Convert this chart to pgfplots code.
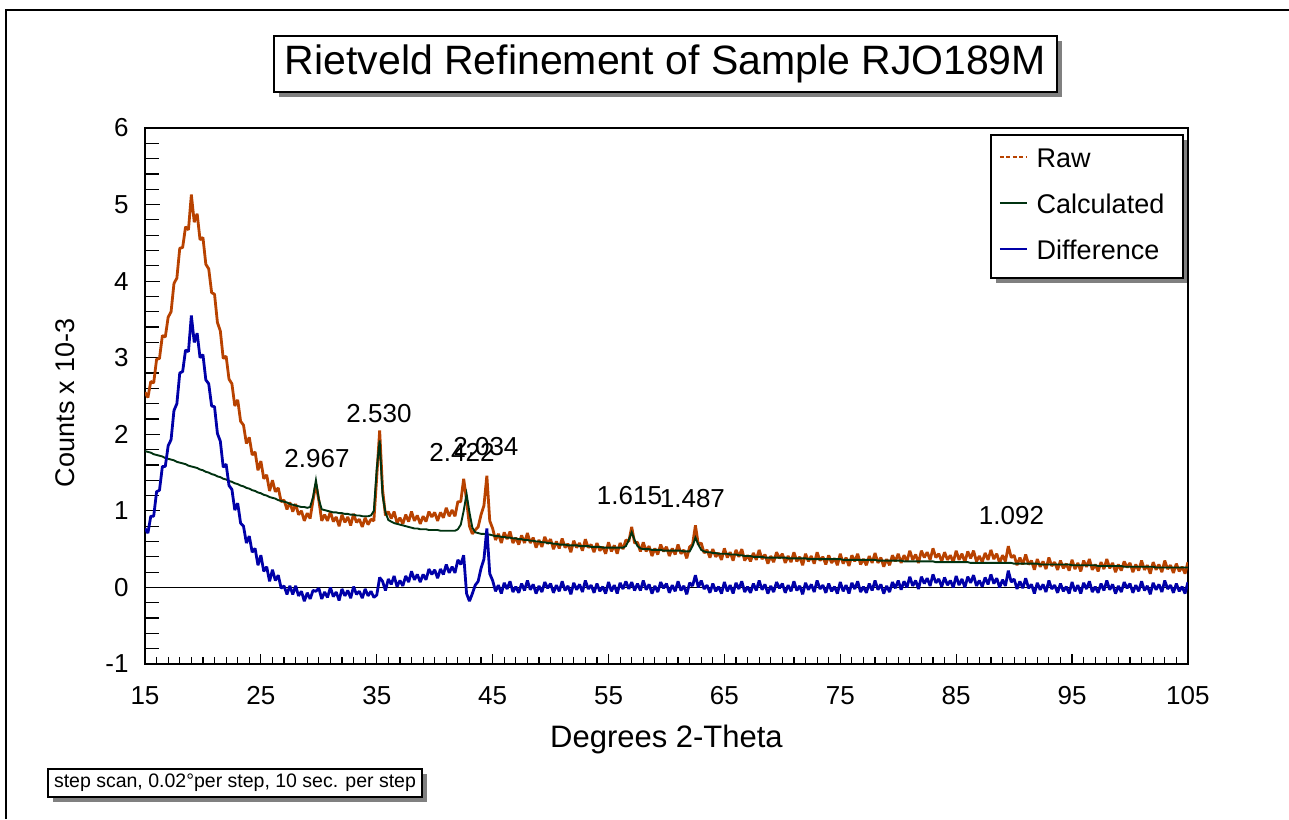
\documentclass[border=0pt]{standalone}
\usepackage{fontspec}
\setmainfont{Liberation Sans}
\usepackage{pgfplots}
\pgfplotsset{compat=1.18}
\usepackage{pgfplotstable}
\usetikzlibrary{shadows}
\definecolor{rawc}{RGB}{184,66,0}
\definecolor{calcc}{RGB}{0,50,16}
\definecolor{diffc}{RGB}{0,0,168}
\newcommand{\fs}[1]{\fontsize{#1}{#1}\selectfont}

\pgfplotstableread{
x raw calc diff
15.00 2.55 1.78 0.77
15.25 2.48 1.77 0.71
15.50 2.69 1.76 0.93
15.75 2.67 1.74 0.93
16.00 2.98 1.73 1.25
16.25 2.99 1.72 1.27
16.50 3.29 1.71 1.58
16.75 3.27 1.69 1.58
17.00 3.53 1.68 1.85
17.25 3.60 1.67 1.93
17.50 3.97 1.66 2.31
17.75 4.04 1.64 2.40
18.00 4.43 1.63 2.80
18.25 4.44 1.62 2.82
18.50 4.71 1.61 3.10
18.75 4.67 1.59 3.08
19.00 5.13 1.58 3.55
19.25 4.77 1.57 3.20
19.50 4.88 1.56 3.32
19.75 4.54 1.54 3.00
20.00 4.57 1.53 3.04
20.25 4.22 1.51 2.71
20.50 4.16 1.50 2.66
20.75 3.85 1.48 2.37
21.00 3.83 1.47 2.36
21.25 3.46 1.45 2.01
21.50 3.35 1.44 1.91
21.75 2.99 1.42 1.57
22.00 3.02 1.41 1.61
22.25 2.72 1.39 1.33
22.50 2.66 1.38 1.28
22.75 2.37 1.36 1.01
23.00 2.45 1.35 1.10
23.25 2.17 1.33 0.84
23.50 2.12 1.32 0.80
23.75 1.88 1.30 0.58
24.00 1.96 1.29 0.67
24.25 1.73 1.27 0.46
24.50 1.77 1.26 0.51
24.75 1.53 1.24 0.29
25.00 1.65 1.23 0.42
25.25 1.42 1.21 0.21
25.50 1.47 1.20 0.27
25.75 1.26 1.18 0.08
26.00 1.40 1.17 0.23
26.25 1.25 1.16 0.09
26.50 1.30 1.14 0.16
26.75 1.12 1.13 -0.01
27.00 1.14 1.12 0.02
27.25 1.02 1.11 -0.09
27.50 1.11 1.09 0.02
27.75 0.99 1.08 -0.09
28.00 1.09 1.07 0.02
28.25 0.95 1.06 -0.11
28.50 1.00 1.05 -0.05
28.75 0.87 1.05 -0.18
29.00 0.97 1.04 -0.07
29.25 0.90 1.05 -0.15
29.50 1.14 1.18 -0.04
29.75 1.35 1.40 -0.05
30.00 1.14 1.15 -0.01
30.25 0.87 1.02 -0.15
30.50 0.95 1.01 -0.06
30.75 0.87 1.00 -0.13
31.00 0.99 0.99 0.00
31.25 0.86 0.98 -0.12
31.50 0.92 0.98 -0.06
31.75 0.80 0.97 -0.17
32.00 0.95 0.97 -0.02
32.25 0.85 0.96 -0.11
32.50 0.92 0.96 -0.04
32.75 0.81 0.95 -0.14
33.00 0.96 0.95 0.01
33.25 0.85 0.94 -0.09
33.50 0.89 0.94 -0.05
33.75 0.79 0.93 -0.14
34.00 0.91 0.93 -0.02
34.25 0.82 0.93 -0.11
34.50 0.89 0.94 -0.05
34.75 0.87 1.00 -0.13
35.00 1.45 1.55 -0.10
35.25 2.05 1.92 0.13
35.50 1.28 1.20 0.08
35.75 0.94 0.98 -0.04
36.00 0.99 0.88 0.11
36.25 0.90 0.86 0.04
36.50 0.99 0.84 0.15
36.75 0.84 0.83 0.01
37.00 0.91 0.82 0.09
37.25 0.83 0.81 0.02
37.50 0.95 0.80 0.15
37.75 0.86 0.79 0.07
38.00 0.99 0.78 0.21
38.25 0.87 0.77 0.10
38.50 0.94 0.77 0.17
38.75 0.83 0.76 0.07
39.00 0.93 0.76 0.17
39.25 0.86 0.76 0.10
39.50 0.99 0.75 0.24
39.75 0.92 0.75 0.17
40.00 0.98 0.75 0.23
40.25 0.87 0.75 0.12
40.50 0.98 0.74 0.24
40.75 0.91 0.74 0.17
41.00 1.04 0.74 0.30
41.25 0.93 0.74 0.19
41.50 1.01 0.74 0.27
41.75 0.93 0.74 0.19
42.00 1.12 0.76 0.36
42.25 1.12 0.82 0.30
42.50 1.42 1.00 0.42
42.75 1.14 1.22 -0.08
43.00 0.80 0.98 -0.18
43.25 0.70 0.78 -0.08
43.50 0.75 0.72 0.03
43.75 0.79 0.71 0.08
44.00 0.95 0.70 0.25
44.25 1.07 0.70 0.37
44.50 1.46 0.69 0.77
44.75 0.87 0.69 0.18
45.00 0.77 0.68 0.09
45.25 0.62 0.67 -0.05
45.50 0.70 0.67 0.03
45.75 0.58 0.66 -0.08
46.00 0.72 0.66 0.06
46.25 0.63 0.65 -0.02
46.50 0.73 0.65 0.08
46.75 0.58 0.64 -0.06
47.00 0.65 0.64 0.01
47.25 0.56 0.63 -0.07
47.50 0.68 0.63 0.05
47.75 0.58 0.62 -0.04
48.00 0.71 0.62 0.09
48.25 0.58 0.61 -0.03
48.50 0.65 0.61 0.04
48.75 0.52 0.60 -0.08
49.00 0.62 0.60 0.02
49.25 0.53 0.59 -0.06
49.50 0.66 0.59 0.07
49.75 0.57 0.58 -0.01
50.00 0.63 0.58 0.05
50.25 0.50 0.57 -0.07
50.50 0.60 0.57 0.03
50.75 0.51 0.56 -0.05
51.00 0.64 0.56 0.08
51.25 0.52 0.56 -0.04
51.50 0.57 0.55 0.02
51.75 0.46 0.55 -0.09
52.00 0.61 0.55 0.06
52.25 0.52 0.55 -0.03
52.50 0.58 0.54 0.04
52.75 0.48 0.54 -0.06
53.00 0.63 0.54 0.09
53.25 0.52 0.54 -0.02
53.50 0.56 0.53 0.03
53.75 0.46 0.53 -0.07
54.00 0.58 0.53 0.05
54.25 0.48 0.53 -0.05
54.50 0.53 0.52 0.01
54.75 0.44 0.52 -0.08
55.00 0.59 0.52 0.07
55.25 0.47 0.52 -0.05
55.50 0.55 0.52 0.03
55.75 0.44 0.52 -0.08
56.00 0.58 0.52 0.06
56.25 0.50 0.52 -0.02
56.50 0.62 0.54 0.08
56.75 0.60 0.62 -0.02
57.00 0.79 0.72 0.07
57.25 0.58 0.62 -0.04
57.50 0.59 0.54 0.05
57.75 0.47 0.51 -0.04
58.00 0.59 0.50 0.09
58.25 0.47 0.50 -0.03
58.50 0.54 0.50 0.04
58.75 0.41 0.49 -0.08
59.00 0.51 0.49 0.02
59.25 0.43 0.49 -0.06
59.50 0.56 0.49 0.07
59.75 0.47 0.48 -0.01
60.00 0.53 0.48 0.05
60.25 0.41 0.48 -0.07
60.50 0.51 0.48 0.03
60.75 0.43 0.48 -0.05
61.00 0.56 0.48 0.08
61.25 0.44 0.48 -0.04
61.50 0.49 0.47 0.02
61.75 0.38 0.47 -0.09
62.00 0.53 0.47 0.06
62.25 0.56 0.54 0.02
62.50 0.81 0.65 0.16
62.75 0.56 0.56 0.00
63.00 0.58 0.49 0.09
63.25 0.45 0.47 -0.02
63.50 0.49 0.46 0.03
63.75 0.39 0.46 -0.07
64.00 0.50 0.45 0.05
64.25 0.40 0.45 -0.05
64.50 0.45 0.44 0.01
64.75 0.36 0.44 -0.08
65.00 0.51 0.44 0.07
65.25 0.39 0.44 -0.05
65.50 0.46 0.43 0.03
65.75 0.35 0.43 -0.08
66.00 0.49 0.43 0.06
66.25 0.40 0.42 -0.02
66.50 0.50 0.42 0.08
66.75 0.35 0.41 -0.06
67.00 0.42 0.41 0.01
67.25 0.34 0.41 -0.07
67.50 0.45 0.40 0.05
67.75 0.36 0.40 -0.04
68.00 0.49 0.40 0.09
68.25 0.37 0.40 -0.03
68.50 0.43 0.39 0.04
68.75 0.31 0.39 -0.08
69.00 0.41 0.39 0.02
69.25 0.33 0.39 -0.06
69.50 0.46 0.39 0.07
69.75 0.38 0.39 -0.01
70.00 0.44 0.39 0.05
70.25 0.32 0.39 -0.07
70.50 0.41 0.38 0.03
70.75 0.33 0.38 -0.05
71.00 0.46 0.38 0.08
71.25 0.34 0.38 -0.04
71.50 0.40 0.38 0.02
71.75 0.29 0.38 -0.09
72.00 0.44 0.38 0.06
72.25 0.34 0.37 -0.03
72.50 0.41 0.37 0.04
72.75 0.31 0.37 -0.06
73.00 0.46 0.37 0.09
73.25 0.35 0.37 -0.02
73.50 0.40 0.37 0.03
73.75 0.30 0.37 -0.07
74.00 0.42 0.37 0.05
74.25 0.32 0.37 -0.05
74.50 0.38 0.37 0.01
74.75 0.29 0.37 -0.08
75.00 0.44 0.37 0.07
75.25 0.31 0.36 -0.05
75.50 0.39 0.36 0.03
75.75 0.28 0.36 -0.08
76.00 0.42 0.36 0.06
76.25 0.34 0.36 -0.02
76.50 0.44 0.36 0.08
76.75 0.30 0.36 -0.06
77.00 0.37 0.36 0.01
77.25 0.29 0.36 -0.07
77.50 0.41 0.36 0.05
77.75 0.32 0.36 -0.04
78.00 0.45 0.36 0.09
78.25 0.32 0.35 -0.03
78.50 0.39 0.35 0.04
78.75 0.27 0.35 -0.08
79.00 0.37 0.35 0.02
79.25 0.29 0.35 -0.06
79.50 0.42 0.35 0.07
79.75 0.34 0.35 -0.01
80.00 0.44 0.35 0.09
80.25 0.32 0.35 -0.03
80.50 0.42 0.34 0.08
80.75 0.34 0.34 0.00
81.00 0.48 0.34 0.14
81.25 0.36 0.34 0.02
81.50 0.43 0.34 0.09
81.75 0.32 0.34 -0.02
82.00 0.48 0.34 0.14
82.25 0.39 0.34 0.05
82.50 0.46 0.34 0.12
82.75 0.36 0.34 0.02
83.00 0.51 0.34 0.17
83.25 0.39 0.33 0.06
83.50 0.44 0.33 0.11
83.75 0.34 0.33 0.01
84.00 0.46 0.33 0.13
84.25 0.36 0.33 0.03
84.50 0.42 0.33 0.09
84.75 0.33 0.33 0.00
85.00 0.48 0.33 0.15
85.25 0.36 0.33 0.03
85.50 0.44 0.33 0.11
85.75 0.33 0.33 0.00
86.00 0.47 0.33 0.14
86.25 0.38 0.32 0.06
86.50 0.48 0.32 0.16
86.75 0.34 0.32 0.02
87.00 0.41 0.32 0.09
87.25 0.33 0.32 0.01
87.50 0.45 0.32 0.13
87.75 0.36 0.32 0.04
88.00 0.49 0.32 0.17
88.25 0.37 0.32 0.05
88.50 0.44 0.32 0.12
88.75 0.32 0.32 0.00
89.00 0.42 0.32 0.10
89.25 0.34 0.32 0.02
89.50 0.54 0.32 0.22
89.75 0.39 0.32 0.07
90.00 0.42 0.31 0.11
90.25 0.29 0.31 -0.02
90.50 0.39 0.31 0.08
90.75 0.30 0.31 -0.01
91.00 0.43 0.31 0.12
91.25 0.30 0.31 -0.01
91.50 0.35 0.31 0.04
91.75 0.23 0.31 -0.08
92.00 0.37 0.31 0.06
92.25 0.27 0.30 -0.03
92.50 0.34 0.30 0.04
92.75 0.24 0.30 -0.06
93.00 0.39 0.30 0.09
93.25 0.28 0.30 -0.02
93.50 0.33 0.30 0.03
93.75 0.23 0.30 -0.07
94.00 0.35 0.30 0.05
94.25 0.25 0.30 -0.05
94.50 0.31 0.30 0.01
94.75 0.22 0.30 -0.08
95.00 0.36 0.29 0.07
95.25 0.24 0.29 -0.05
95.50 0.32 0.29 0.03
95.75 0.21 0.29 -0.08
96.00 0.35 0.29 0.06
96.25 0.27 0.29 -0.02
96.50 0.37 0.29 0.08
96.75 0.23 0.29 -0.06
97.00 0.30 0.29 0.01
97.25 0.21 0.28 -0.07
97.50 0.33 0.28 0.05
97.75 0.24 0.28 -0.04
98.00 0.37 0.28 0.09
98.25 0.25 0.28 -0.03
98.50 0.32 0.28 0.04
98.75 0.20 0.28 -0.08
99.00 0.30 0.28 0.02
99.25 0.22 0.28 -0.06
99.50 0.34 0.27 0.07
99.75 0.26 0.27 -0.01
100.00 0.32 0.27 0.05
100.25 0.20 0.27 -0.07
100.50 0.30 0.27 0.03
100.75 0.22 0.27 -0.05
101.00 0.35 0.27 0.08
101.25 0.23 0.27 -0.04
101.50 0.29 0.27 0.02
101.75 0.18 0.27 -0.09
102.00 0.33 0.27 0.06
102.25 0.23 0.26 -0.03
102.50 0.30 0.26 0.04
102.75 0.20 0.26 -0.06
103.00 0.35 0.26 0.09
103.25 0.24 0.26 -0.02
103.50 0.29 0.26 0.03
103.75 0.19 0.26 -0.07
104.00 0.31 0.26 0.05
104.25 0.21 0.26 -0.05
104.50 0.27 0.26 0.01
104.75 0.18 0.26 -0.08
105.00 0.33 0.26 0.07
}\data

\tikzset{boxshadow/.style={drop shadow={shadow xshift=5pt, shadow yshift=-5pt, opacity=1, fill=black!50}}}

\begin{document}
\begin{tikzpicture}
\path[use as bounding box] (0pt,0pt) rectangle (1289pt,819pt);
\draw[line width=1.2pt] (6pt,0pt) -- (6pt,809pt) -- (1289pt,809pt);
\node[draw, line width=1.5pt, fill=white, minimum width=783pt, minimum height=56pt, inner sep=0pt, boxshadow] at (665.5pt,755pt) {\fs{41}Rietveld Refinement of Sample RJO189M};
% legend frame with shadow
\fill[black!50] (996pt,536pt) rectangle (1188pt,679pt);
\filldraw[fill=white, draw=black, line width=1.3pt] (991pt,541pt) rectangle (1183pt,684pt);
\begin{axis}[
  at={(145pt,155pt)}, anchor=south west,
  scale only axis, width=1043pt, height=536pt,
  xmin=15, xmax=105, ymin=-1, ymax=6,
  xtick={15,25,...,105}, ytick={-1,0,...,6},
  minor x tick num=9, minor y tick num=4,
  tick align=inside, tick pos=left,
  major tick length=10pt, minor tick length=7pt,
  y tick style={/pgfplots/major tick length=15pt, /pgfplots/minor tick length=14pt},
  axis line style={line width=1.6pt},
  every tick/.style={black, line width=1.2pt},
  every minor tick/.style={black, line width=1.2pt},
  /pgf/number format/assume math mode=true,
  ticklabel style={font=\fs{26}},
  xticklabel style={yshift=-19pt},
  yticklabel style={xshift=-13pt},
  xlabel={Degrees 2-Theta},
  ylabel={Counts x 10-3},
  xlabel style={font=\fs{31}, at={(axis description cs:0.5,-0.14)}, anchor=center},
  ylabel style={font=\fs{27}, at={(axis description cs:-0.0767,0.487)}, anchor=center},
  legend image code/.code={\draw[#1] (0pt,3pt) -- (27pt,3pt);},
  legend cell align=left,
  legend style={at={(1,1)}, anchor=north east, xshift=-5pt, yshift=-7pt,
    draw=none, fill=none, font=\fs{27},
    inner xsep=9pt, inner ysep=12pt, row sep=20pt, column sep=9pt,
    nodes={inner sep=0pt, text height=20pt, text depth=6pt}},
]
\addplot[black, line width=1pt, forget plot] coordinates {(15,0) (105,0)};
\addplot[rawc, line width=2.8pt, line join=bevel, legend image post style={rawc, dash pattern=on 4pt off 2.5pt, line width=1.5pt}] table[x=x, y=raw] {\data};
\addlegendentry{Raw}
\addplot[calcc, line width=1.9pt, legend image post style={calcc, line width=1.5pt}] table[x=x, y=calc] {\data};
\addlegendentry{\makebox[137pt][l]{Calculated}}
\addplot[diffc, line width=2.8pt, line join=bevel, legend image post style={diffc, line width=1.5pt}] table[x=x, y=diff] {\data};
\addlegendentry{Difference}
\node[font=\fs{26}] at (axis cs:29.84,1.677) {2.967};
\node[font=\fs{26}] at (axis cs:35.19,2.265) {2.530};
\node[font=\fs{26}] at (axis cs:42.35,1.769) {2.422};
\node[font=\fs{26}] at (axis cs:44.42,1.834) {2.034};
\node[font=\fs{26}] at (axis cs:56.81,1.194) {1.615};
\node[font=\fs{26}] at (axis cs:62.24,1.155) {1.487};
\node[font=\fs{26}] at (axis cs:89.77,0.939) {1.092};
\end{axis}
\node[draw, line width=1.2pt, fill=white, minimum width=374pt, minimum height=28pt, inner sep=0pt, boxshadow] at (235pt,36pt) {\fs{19.5}step scan, 0.02°per step, 10 sec. per step};
\end{tikzpicture}
\end{document}
